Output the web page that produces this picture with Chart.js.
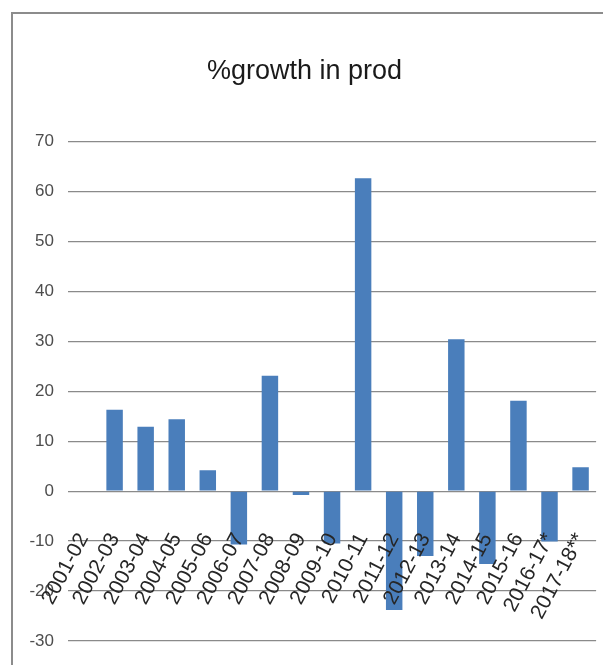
<!DOCTYPE html>
<html lang="en">
<head>
  <meta charset="UTF-8" />
  <title>%growth in prod</title>
  <script src="https://cdn.jsdelivr.net/npm/chart.js"></script>
  <style>
    body {
      margin: 0;
      padding: 0;
      background: #fff;
      overflow: hidden;
    }
    /* grey frame, only top and left edges show in the picture */
    .frame {
      position: absolute;
      left: 11px;
      top: 12px;
      width: 600px;
      height: 651px;
      border-left: 2px solid #8c8c8c;
      border-top: 2px solid #8c8c8c;
    }
    .chart-box {
      position: absolute;
      left: 0;
      top: 0;
      width: 603px;
      height: 671px;
    }
  </style>
</head>
<body>
  <div class="frame"></div>
  <div class="chart-box">
    <canvas id="barChart"></canvas>
  </div>

<script>
  const years = ['2001-02', '2002-03', '2003-04', '2004-05', '2005-06', '2006-07',
    '2007-08', '2008-09', '2009-10', '2010-11', '2011-12', '2012-13', '2013-14',
    '2014-15', '2015-16', '2016-17*', '2017-18**'];
  const growth = [0, 16.3, 12.9, 14.4, 4.2, -10.7, 23.1, -0.8, -10.5, 62.6,
    -23.8, -13.0, 30.4, -14.6, 18.1, -10.1, 4.8];
  const yTicks = [-30, -20, -10, 0, 10, 20, 30, 40, 50, 60, 70];

  const sans = "'Liberation Sans', Arial, sans-serif";

  const ctx = document.getElementById('barChart').getContext('2d');

  new Chart(ctx, {
    type: 'bar',
    data: {
      labels: years,
      datasets: [{
        label: '%growth in prod',
        data: growth,
        backgroundColor: '#4a7ebb',
        borderWidth: 0,
        barPercentage: 0.53,
        categoryPercentage: 1
      }]
    },
    options: {
      responsive: true,
      maintainAspectRatio: false,
      animation: false,
      layout: {
        padding: { left: 12, right: 6, top: 0, bottom: 30 }
      },
      plugins: {
        legend: { display: false },
        tooltip: { enabled: false },
        title: {
          display: true,
          text: '%growth in prod',
          color: '#1a1a1a',
          font: { family: sans, size: 27, weight: 'normal' },
          padding: { top: 55, bottom: 54 }
        }
      },
      scales: {
        y: {
          min: yTicks[0],
          max: yTicks[yTicks.length - 1],
          afterBuildTicks: axis => {
            axis.ticks = yTicks.map(v => ({ value: v }));
          },
          afterFit: axis => { axis.width = 56; },
          grid: { color: '#8a8a8a', lineWidth: 1.2, drawTicks: false },
          border: { display: false },
          ticks: {
            color: '#4d4d4d',
            padding: 14,
            font: { family: sans, size: 17 }
          }
        },
        x: {
          position: { y: -6 },
          grid: { display: false },
          border: { display: false },
          ticks: {
            z: 1, // labels sit on top of the bars, like the original
            color: '#262626',
            padding: 0,
            minRotation: 62,
            maxRotation: 62,
            autoSkip: false,
            font: { family: sans, size: 21 }
          }
        }
      }
    }
  });
</script>
</body>
</html>
